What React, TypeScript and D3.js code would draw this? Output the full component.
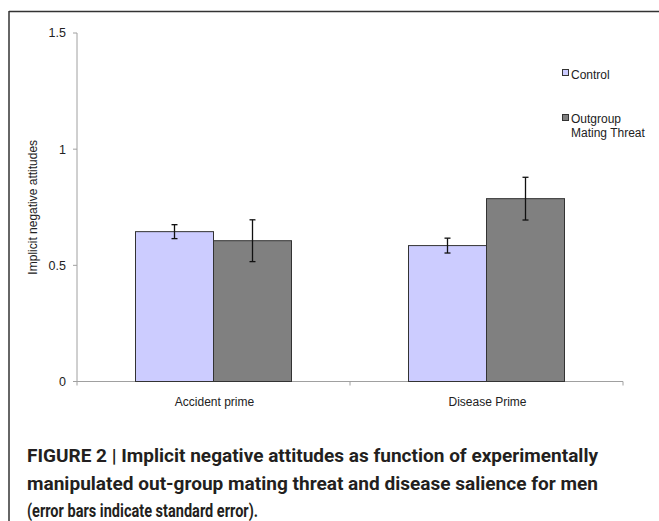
import React from 'react';
import * as d3 from 'd3';

// values
const categories = ['Accident prime', 'Disease Prime'];
const seriesNames = ['Control', 'Outgroup Mating Threat'];
const controlMeans = [0.645, 0.585];
const controlErrors = [0.03, 0.032];
const threatMeans = [0.606, 0.787];
const threatErrors = [0.09, 0.092];
const yTicks = [0, 0.5, 1, 1.5];
const captionLines = [
  'FIGURE 2 | Implicit negative attitudes as function of experimentally',
  'manipulated out-group mating threat and disease salience for men',
  '(error bars indicate standard error).',
];

const W = 659;
const H = 521;
const fills = ['#ccccff', '#808080'];

const App = (): JSX.Element => {
  const x0 = d3.scaleBand().domain(categories).range([77, 623]).paddingInner(0).paddingOuter(0);
  const y = d3.scaleLinear().domain([0, 1.5]).range([381.5, 33]);
  // two bars per group, about 3/8 of the group left empty on each side
  const x1 = d3
    .scaleBand()
    .domain(seriesNames)
    .range([0, x0.bandwidth()])
    .paddingInner(0)
    .paddingOuter(0.75);

  const rows = categories.map((c, i) => ({
    cat: c,
    vals: [
      { s: seriesNames[0], m: controlMeans[i], e: controlErrors[i] },
      { s: seriesNames[1], m: threatMeans[i], e: threatErrors[i] },
    ],
  }));

  const font = '"Liberation Sans", Arial, sans-serif';
  const axisColor = '#a0a0a0';

  return (
    <svg
      width={W}
      height={H}
      style={{ position: 'absolute', left: 0, top: 0, background: '#fff' }}
    >
      {/* frame */}
      <line x1={9} y1={11.5} x2={W} y2={11.5} stroke="#333" strokeWidth={1.5} />
      <line x1={9} y1={11} x2={9} y2={H} stroke="#333" strokeWidth={1.5} />

      {/* y axis */}
      <line x1={77} y1={y(1.5)} x2={77} y2={y(0)} stroke={axisColor} strokeWidth={1} />
      {yTicks.map((t) => (
        <g key={t}>
          <line x1={73} x2={77} y1={y(t)} y2={y(t)} stroke={axisColor} />
          <text
            x={66}
            y={y(t)}
            dy="0.35em"
            textAnchor="end"
            fontFamily={font}
            fontSize={12.5}
            fill="#222"
          >
            {t}
          </text>
        </g>
      ))}
      <text
        transform={`translate(37,${(y(0) + y(1.5)) / 2}) rotate(-90)`}
        textAnchor="middle"
        fontFamily={font}
        fontSize={12}
        fill="#222"
      >
        Implicit negative attitudes
      </text>

      {/* x axis */}
      <line x1={77} x2={623} y1={y(0)} y2={y(0)} stroke={axisColor} />
      {[...categories.map((c) => x0(c) as number), 623].map((tx) => (
        <line key={tx} x1={tx} x2={tx} y1={y(0)} y2={y(0) + 4} stroke={axisColor} />
      ))}
      {categories.map((c) => (
        <text
          key={c}
          x={(x0(c) as number) + x0.bandwidth() / 2 + 1}
          y={406}
          textAnchor="middle"
          fontFamily={font}
          fontSize={12}
          fill="#222"
        >
          {c}
        </text>
      ))}

      {/* bars */}
      {rows.map((r) => (
        <g key={r.cat} transform={`translate(${x0(r.cat)},0)`}>
          {r.vals.map((v, j) => {
            const bx = x1(v.s) as number;
            const cx = bx + x1.bandwidth() / 2;
            return (
              <g key={v.s}>
                <rect
                  x={bx}
                  y={y(v.m)}
                  width={x1.bandwidth()}
                  height={y(0) - y(v.m)}
                  fill={fills[j]}
                  stroke="#333"
                  strokeWidth={1}
                />
                <line x1={cx} x2={cx} y1={y(v.m + v.e)} y2={y(v.m - v.e)} stroke="#111" strokeWidth={1.3} />
                <line x1={cx - 3} x2={cx + 3} y1={y(v.m + v.e)} y2={y(v.m + v.e)} stroke="#111" strokeWidth={1.3} />
                <line x1={cx - 3} x2={cx + 3} y1={y(v.m - v.e)} y2={y(v.m - v.e)} stroke="#111" strokeWidth={1.3} />
              </g>
            );
          })}
        </g>
      ))}

      {/* legend */}
      <rect x={562.5} y={69.5} width={6} height={6} fill={fills[0]} stroke="#333" strokeWidth={1} />
      <text x={571} y={78.5} fontFamily={font} fontSize={12} fill="#222">
        {seriesNames[0]}
      </text>
      <rect x={562.5} y={114.5} width={6} height={6} fill={fills[1]} stroke="#333" strokeWidth={1} />
      <text x={571} y={123} fontFamily={font} fontSize={12} fill="#222">
        Outgroup
      </text>
      <text x={571} y={137} fontFamily={font} fontSize={12} fill="#222">
        Mating Threat
      </text>

      {/* caption */}
      {captionLines.map((l, i) => (
        <text
          key={i}
          x={27}
          y={462 + i * 27.5}
          fontFamily='"Liberation Sans Narrow", "Roboto", "Liberation Sans", sans-serif'
          fontWeight="bold"
          fontSize={19}
          fill="#231f20"
          textLength={[571, 571, 231][i]}
          lengthAdjust="spacingAndGlyphs"
        >
          {l}
        </text>
      ))}
    </svg>
  );
};

export default App;
